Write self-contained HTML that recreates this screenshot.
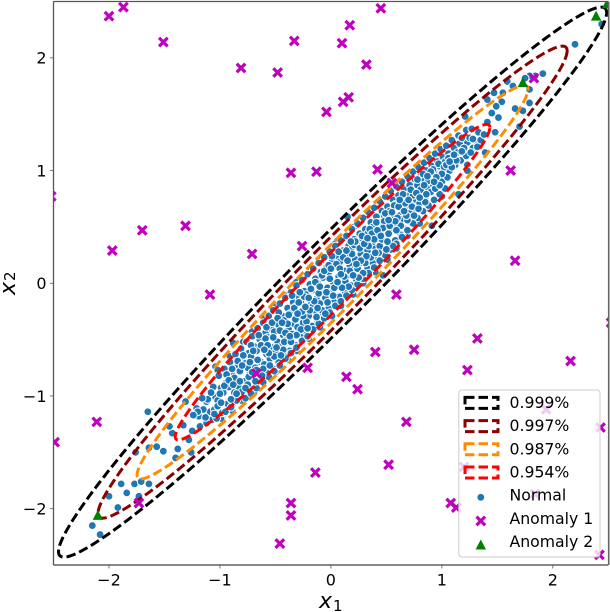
<!DOCTYPE html>
<html>
<head>
<meta charset="utf-8">
<title>Contour scatter</title>
<style>
html,body{margin:0;padding:0;background:#fff;width:610px;height:612px;overflow:hidden}
svg{display:block}
text{font-family:"DejaVu Sans","Liberation Sans",sans-serif;fill:#000}
</style>
</head>
<body>
<svg id="chart" xmlns="http://www.w3.org/2000/svg" width="610" height="612" viewBox="0 0 610 612">
<defs><clipPath id="plot-clip"><rect x="53.5" y="1.5" width="555" height="563.5"></rect></clipPath></defs>
</svg>
<script>
const xTicks = [-2, -1, 0, 1, 2];
const yTicks = [-2, -1, 0, 1, 2];
const contourLabels = ['0.999%', '0.997%', '0.987%', '0.954%'];
const contourRadiiX = [2.47, 2.114, 1.762, 1.418];
const contourRadiiY = [2.44, 2.094, 1.746, 1.40];
const contourRho = [0.98, 0.98, 0.98, 0.98];
const contourCenter = [0.015, 0.01];
const contourColors = ['#000000', '#8b0000', '#ff8c00', '#ff0000'];
const anomaly1 = [
[-2.00,2.37],[-1.87,2.45],[-1.51,2.14],[-0.81,1.91],[-0.48,1.87],[-0.33,2.15],[-0.36,0.98],[-2.52,0.77],
[-1.97,0.29],[-1.70,0.47],[-1.31,0.51],[-0.71,0.26],[-0.26,0.33],[-1.09,-0.10],[0.45,2.44],[0.17,2.29],
[0.10,2.13],[0.32,1.94],[0.16,1.65],[0.11,1.61],[-0.04,1.52],[-0.13,0.99],[0.42,1.01],[0.55,0.89],
[1.62,1.00],[1.66,0.20],[0.59,-0.10],[1.83,1.82],[-2.11,-1.23],[-2.49,-1.41],[-1.73,-1.95],[-0.67,-0.80],
[-0.36,-1.95],[-0.36,-2.06],[-0.46,-2.31],[-0.21,-0.75],[0.40,-0.61],[0.75,-0.59],[1.32,-0.49],[2.16,-0.69],
[1.23,-0.77],[0.14,-0.83],[0.24,-0.94],[0.68,-1.23],[1.94,-1.12],[2.43,-1.28],[-0.14,-1.68],[0.52,-1.61],
[1.20,-1.63],[1.08,-1.95],[1.13,-1.99],[1.84,-1.87],[2.42,-2.41],[2.525,-0.35]
];
const anomaly2 = [[2.39,2.37],[2.49,2.48],[1.73,1.78],[-2.10,-2.06]];
const normalOuter = [
[-1.43,-1.33],[-1.455,-1.27],[-1.28,-1.39],[-1.31,-1.05],[-1.19,-1.18],[-1.21,-1.11],[-1.18,-1.27],[-1.07,-1.21],
[-1.12,-1.05],[-0.98,-1.19],[-1.04,-0.74],[-0.88,-0.53],[-0.91,-1.06],[-1.65,-1.14],[-1.64,-1.46],[-1.57,-1.45],
[-1.51,-1.49],[-1.38,-1.47],[-1.76,-1.50],[-1.40,-1.55],[-1.26,-1.50],[-1.89,-1.78],[-1.77,-1.78],[-1.71,-1.76],
[-1.64,-1.78],[-1.84,-1.86],[-1.73,-1.89],[-2.00,-1.89],[-1.92,-1.99],[-2.15,-2.15],[-2.08,-2.23],
[2.20,2.12],[2.44,2.30],[1.91,1.86],[1.84,1.84],[1.79,1.84],[1.75,1.82],[1.59,1.79],[1.64,1.75],[1.79,1.72],
[1.55,1.69],[1.47,1.69],[1.41,1.63],[1.54,1.61],[1.79,1.60],[1.66,1.55],[1.73,1.53],[1.49,1.57],[1.45,1.51],
[1.21,1.48],[1.51,1.47],[1.41,1.43],[1.70,1.39],[1.48,1.34],[1.33,1.34],[1.22,1.36],[1.15,1.31],[1.27,1.37],
[1.23,1.25],[1.28,1.20],[1.39,1.16],[1.23,1.05],[1.23,1.00],[1.15,0.79],[0.91,0.51],[0.47,0.07],[0.15,0.59],[0.04,0.35]
];
const normalEdge = [
[-1.02,-0.77],[-0.91,-0.65],[-0.79,-0.52],[-0.71,-0.43],[-0.6,-0.31],[-0.49,-0.2],[-0.41,-0.11],[-0.31,0.01],[-0.19,0.11],[-0.09,0.2],
[0.0,0.31],[0.11,0.41],[0.21,0.5],[0.3,0.58],[0.41,0.69],[0.49,0.77],[0.6,0.85],[0.71,0.95],[0.79,1.03],[0.9,1.11],[1.01,1.2],
[-0.99,-1.2],[-0.89,-1.13],[-0.81,-1.04],[-0.69,-0.96],[-0.61,-0.87],[-0.5,-0.79],[-0.39,-0.68],[-0.31,-0.6],[-0.2,-0.49],[-0.1,-0.39],
[0.01,-0.29],[0.09,-0.2],[0.2,-0.1],[0.29,0.0],[0.4,0.1],[0.51,0.21],[0.59,0.31],[0.69,0.42],[0.8,0.53],[0.89,0.66],[1.0,0.77]
];
const normalCore = [
[-1.11,-1.03],[-1.09,-1.14],[-1.12,-1.24],[-1.06,-0.92],[-1.04,-1.01],[-1.05,-1.12],[-1.03,-1.20],
[-1.01,-0.82],[-0.99,-0.93],[-1.02,-1.04],[-0.98,-1.15],[-0.96,-0.76],[-0.94,-0.88],[-0.97,-0.97],[-0.93,-1.07],[-0.95,-1.14],
[-0.91,-0.70],[-0.89,-0.81],[-0.92,-0.92],[-0.88,-1.01],[-0.90,-1.10],[-0.86,-0.63],[-0.84,-0.74],[-0.87,-0.84],[-0.83,-0.93],[-0.85,-1.04],
[-0.81,-0.58],[-0.79,-0.68],[-0.82,-0.78],[-0.78,-0.87],[-0.80,-0.96],[-0.77,-1.02],
[-0.76,-0.52],[-0.74,-0.62],[-0.77,-0.71],[-0.73,-0.80],[-0.75,-0.90],[-0.72,-0.98],
[-0.71,-0.47],[-0.69,-0.56],[-0.72,-0.65],[-0.68,-0.75],[-0.70,-0.84],[-0.67,-0.93],
[-0.66,-0.40],[-0.64,-0.50],[-0.67,-0.60],[-0.63,-0.70],[-0.65,-0.79],[-0.62,-0.87],
[-0.61,-0.35],[-0.59,-0.44],[-0.62,-0.54],[-0.58,-0.63],[-0.60,-0.72],[-0.57,-0.80],[-0.61,-0.88],
[-0.56,-0.29],[-0.54,-0.40],[-0.57,-0.48],[-0.53,-0.57],[-0.55,-0.67],[-0.52,-0.76],[-0.56,-0.83],
[-0.52,-0.24],[-0.49,-0.34],[-0.51,-0.43],[-0.48,-0.52],[-0.50,-0.61],[-0.47,-0.70],[-0.51,-0.78],
[-0.46,-0.18],[-0.44,-0.29],[-0.47,-0.37],[-0.43,-0.46],[-0.45,-0.56],[-0.42,-0.65],[-0.46,-0.73],
[-0.41,-0.13],[-0.39,-0.22],[-0.42,-0.33],[-0.38,-0.41],[-0.40,-0.50],[-0.37,-0.60],[-0.41,-0.67],
[-0.36,-0.08],[-0.34,-0.17],[-0.37,-0.27],[-0.33,-0.36],[-0.35,-0.45],[-0.32,-0.55],[-0.36,-0.62],
[-0.31,-0.02],[-0.29,-0.12],[-0.32,-0.21],[-0.28,-0.31],[-0.30,-0.39],[-0.27,-0.48],[-0.31,-0.57],
[-0.26,0.03],[-0.24,-0.07],[-0.27,-0.16],[-0.23,-0.26],[-0.25,-0.35],[-0.22,-0.43],[-0.26,-0.51],
[-0.21,0.08],[-0.19,-0.01],[-0.22,-0.10],[-0.18,-0.19],[-0.20,-0.29],[-0.17,-0.38],[-0.21,-0.47],
[-0.16,0.13],[-0.14,0.04],[-0.17,-0.06],[-0.13,-0.14],[-0.15,-0.24],[-0.12,-0.33],[-0.16,-0.41],
[-0.11,0.18],[-0.09,0.10],[-0.12,0.00],[-0.08,-0.09],[-0.10,-0.18],[-0.07,-0.27],[-0.11,-0.36],
[-0.06,0.23],[-0.04,0.14],[-0.07,0.05],[-0.03,-0.04],[-0.05,-0.13],[-0.02,-0.22],[-0.06,-0.31],
[-0.01,0.28],[0.01,0.19],[-0.02,0.10],[0.02,0.01],[0.00,-0.08],[0.03,-0.17],[-0.01,-0.26],
[0.04,0.33],[0.06,0.24],[0.03,0.15],[0.07,0.06],[0.05,-0.03],[0.08,-0.12],[0.04,-0.20],
[0.09,0.38],[0.11,0.29],[0.08,0.19],[0.12,0.11],[0.10,0.02],[0.13,-0.08],[0.09,-0.16],
[0.14,0.42],[0.16,0.33],[0.13,0.25],[0.17,0.16],[0.15,0.07],[0.18,-0.02],[0.14,-0.11],
[0.19,0.48],[0.21,0.39],[0.18,0.30],[0.22,0.21],[0.20,0.12],[0.23,0.03],[0.19,-0.06],
[0.24,0.53],[0.26,0.44],[0.23,0.35],[0.27,0.26],[0.25,0.17],[0.28,0.08],[0.24,-0.01],
[0.29,0.58],[0.31,0.48],[0.28,0.40],[0.32,0.31],[0.30,0.22],[0.33,0.13],[0.29,0.04],
[0.34,0.63],[0.36,0.54],[0.33,0.44],[0.37,0.36],[0.35,0.27],[0.38,0.18],[0.34,0.09],
[0.39,0.67],[0.41,0.59],[0.38,0.50],[0.42,0.41],[0.40,0.32],[0.43,0.22],[0.39,0.14],
[0.44,0.73],[0.46,0.64],[0.43,0.54],[0.47,0.46],[0.45,0.37],[0.48,0.28],[0.44,0.20],
[0.49,0.77],[0.51,0.68],[0.48,0.60],[0.52,0.51],[0.50,0.42],[0.53,0.33],[0.49,0.25],
[0.54,0.82],[0.56,0.74],[0.53,0.64],[0.57,0.55],[0.55,0.47],[0.58,0.38],[0.54,0.30],
[0.59,0.86],[0.61,0.78],[0.58,0.70],[0.62,0.60],[0.60,0.52],[0.63,0.43],[0.59,0.35],
[0.64,0.90],[0.66,0.83],[0.63,0.74],[0.67,0.65],[0.65,0.57],[0.68,0.48],[0.64,0.41],
[0.69,0.95],[0.71,0.87],[0.68,0.78],[0.72,0.70],[0.70,0.61],[0.73,0.53],[0.69,0.47],
[0.74,0.99],[0.76,0.92],[0.73,0.83],[0.77,0.74],[0.75,0.66],[0.78,0.58],[0.74,0.53],
[0.79,1.03],[0.81,0.95],[0.78,0.87],[0.82,0.79],[0.80,0.71],[0.83,0.64],
[0.84,1.07],[0.86,1.00],[0.83,0.92],[0.87,0.84],[0.85,0.76],[0.88,0.69],
[0.89,1.11],[0.91,1.04],[0.88,0.96],[0.92,0.88],[0.90,0.81],[0.93,0.74],
[0.94,1.15],[0.96,1.08],[0.93,1.00],[0.97,0.93],[0.95,0.85],[0.98,0.79],
[0.99,1.19],[1.01,1.12],[0.98,1.04],[1.02,0.96],[1.00,0.90],[1.03,0.84],
[1.04,1.22],[1.06,1.15],[1.03,1.08],[1.07,1.00],[1.05,0.94],
[1.09,1.27],[1.11,1.20],[1.08,1.12],[1.12,1.05],[1.16,1.24],[1.14,1.16],[1.17,1.09],
[1.20,1.20],[1.22,1.13],[1.25,1.29],[1.26,1.16],[1.30,1.27]
];
const normalScatter = [
[0.13,0.02],[-0.42,-0.52],[0.71,0.62],[-0.87,-0.97],[0.36,0.23],[-0.18,-0.05],[0.92,1.01],[-0.63,-0.55],[0.05,0.17],[0.57,0.69],
[-1.02,-1.09],[0.28,0.42],[-0.33,-0.22],[0.81,0.83],[-0.74,-0.83],[0.44,0.33],[-0.08,0.07],[1.06,1.11],[-0.51,-0.65],[0.19,0.26],
[-0.27,-0.41],[0.63,0.51],[-0.94,-0.81],[0.02,-0.11],[0.49,0.62],[-0.58,-0.39],[0.85,0.72],[-0.13,-0.30],[0.33,0.29],[-0.79,-0.64],
[0.11,0.23],[-0.38,-0.28],[0.74,0.78],[-0.68,-0.87],[1.13,1.09],[0.24,0.13],[-0.03,-0.17],[0.52,0.44],[-0.47,-0.26],[0.97,1.06],
[-1.08,-0.97],[0.41,0.54],[-0.22,-0.34],[0.67,0.71],[-0.84,-0.69],[0.16,-0.03],[-0.56,-0.62],[0.88,0.91],[-0.06,0.11],[0.31,0.18],
[-0.31,-0.46],[0.59,0.47],[-0.99,-1.06],[0.07,0.28],[0.46,0.39],[-0.72,-0.55],[0.78,0.92],[-0.16,-0.20],[0.21,0.34],[-0.43,-0.59],
[1.02,1.03],[-0.61,-0.76],[0.38,0.37],[-0.24,-0.12],[0.69,0.56],[-0.89,-0.76],[0.12,0.06],[0.54,0.58],[-0.36,-0.52],[-0.01,0.04],
[0.83,0.97],[-0.53,-0.35],[0.26,0.31],[-0.77,-0.93],[0.94,0.84],[-0.11,-0.09],[0.48,0.55],[-1.05,-1.16],[0.35,0.48],[-0.29,-0.17],
[0.61,0.68],[-0.66,-0.68],[0.17,0.11],[-0.46,-0.42],[1.11,1.14],[0.73,0.68],[-0.19,-0.24],[0.29,0.09],[-0.82,-0.87],[0.03,-0.04],
[0.56,0.33],[-0.39,-0.36],[0.9,0.99],[-0.59,-0.49],[0.22,0.37],[-0.08,-0.24],[0.65,0.79],[-0.96,-0.91],[0.43,0.27],[-0.25,-0.29],
[0.79,0.66],[-0.7,-0.6],[0.08,0.13],[0.51,0.37],[-0.49,-0.57],[1.0,0.97],[-0.14,0.01],[0.37,0.44],[-0.32,-0.32],[0.6,0.58],
[-0.9,-1.03],[0.15,0.2],[-0.55,-0.73],[0.86,0.79],[-0.04,-0.08],[0.32,0.24],[-0.65,-0.46],[0.72,0.83],[-0.21,-0.4],[0.47,0.49],
[-1.15,-1.12],[0.25,0.05],[-0.41,-0.44],[0.95,0.94],[0.01,0.24],[0.55,0.63],[-0.75,-0.75],[0.18,0.37],[-0.28,-0.08],[0.68,0.6],
[-0.85,-0.98],[0.4,0.27],[-0.1,-0.03],[1.04,1.05],[-0.52,-0.48],[0.27,0.2],[0.77,0.8],[-0.35,-0.11],[0.1,-0.04],[-0.62,-0.82],
[0.5,0.3],[-0.15,-0.16],[0.84,0.87],[-0.92,-0.86],[0.34,0.33],[-0.45,-0.64],[0.62,0.74],[-0.02,0.16],[0.2,0.07],[-0.73,-0.7],
[0.98,0.87],[-0.26,-0.25],[0.42,0.47],[-0.57,-0.55],[0.7,0.74],[0.06,0.01],[-1.0,-0.98],[0.3,0.35],[-0.37,-0.47],[0.53,0.51],
[1.09,1.03],[-0.2,-0.13],[0.75,0.6],[-0.8,-0.73],[0.14,0.29],[-0.48,-0.31],[0.87,0.95],[-0.05,-0.27],[0.39,0.39],[-0.67,-0.77],
[0.23,0.17],[-1.13,-1.19],[0.58,0.55],[-0.3,-0.27],[0.93,0.9],[0.0,0.13],[-0.6,-0.59],[0.45,0.42],[-0.12,-0.22],[0.66,0.64],
[1.18,1.17],[-0.88,-0.9],[0.09,0.08],[-0.44,-0.35],[0.8,0.76],[0.33,0.4],[-0.23,-0.21],[-0.71,-0.79],[0.52,0.56],[1.07,1.08],
[-1.2,-1.14],[-1.25,-1.31],[-1.16,-1.02],[-1.33,-1.26],[-1.24,-1.17],[1.28,1.28],[1.35,1.27],[1.32,1.21],[1.18,1.29],[1.38,1.32]
];

const svg = document.getElementById('chart');
const NS = 'http://www.w3.org/2000/svg';
const plotLeft = 53.5, plotRight = 608.3, plotTop = 1.5, plotBottom = 565;
const xMin = -2.5, xMax = 2.5, yMin = -2.5, yMax = 2.5;
function sx(v){ return plotLeft + (v - xMin) / (xMax - xMin) * (plotRight - plotLeft); }
function sy(v){ return plotBottom - (v - yMin) / (yMax - yMin) * (plotBottom - plotTop); }
function make(tag, attrs, parent){
  const el = document.createElementNS(NS, tag);
  for (const k in attrs) el.setAttribute(k, attrs[k]);
  (parent || svg).appendChild(el);
  return el;
}
function xMark(cx, cy, g){
  const r = 4.3;
  const el = make('path', {d:`M${cx-r} ${cy-r}L${cx+r} ${cy+r}M${cx-r} ${cy+r}L${cx+r} ${cy-r}`, stroke:'#bf00bf', 'stroke-width':3.2, fill:'none'}, g);
  return el;
}
function triMark(cx, cy, g){
  const el = make('path', {d:`M${cx} ${cy-5.5}L${cx+5.2} ${cy+4.5}L${cx-5.2} ${cy+4.5}Z`, fill:'#008000'}, g);
  return el;
}
function dotMark(cx, cy, g){
  const el = make('circle', {cx:cx, cy:cy, r:3.9, fill:'#1f77b4', stroke:'#fff', 'stroke-width':1}, g);
  return el;
}
function ellipsePath(rx, ry, rho){
  const phi = Math.acos(rho);
  let d = '';
  for (let i = 0; i <= 360; i++){
    const t = i * Math.PI / 180;
    const px = sx(contourCenter[0] + rx * Math.cos(t));
    const py = sy(contourCenter[1] + ry * Math.cos(t - phi));
    d += (i ? 'L' : 'M') + px.toFixed(2) + ' ' + py.toFixed(2);
  }
  return d + 'Z';
}

const plot = make('g', {'clip-path':'url(#plot-clip)'});



const normalGroup = make('g', {}, plot);


normalOuter.concat(normalEdge, normalCore, normalScatter).forEach(p => {
  const el = dotMark(sx(p[0]), sy(p[1]), normalGroup);
  
  
});

contourRadiiX.forEach((r, i) => {
  const el = make('path', {d:ellipsePath(r, contourRadiiY[i], contourRho[i]), fill:'none', stroke:contourColors[i], 'stroke-width':3, 'stroke-dasharray':'9.5 4'}, plot);
  
  
});

const a1Group = make('g', {}, plot);


anomaly1.forEach(p => {
  const el = xMark(sx(p[0]), sy(p[1]), a1Group);
  
  
});
const a2Group = make('g', {}, plot);


anomaly2.forEach(p => {
  const el = triMark(sx(p[0]), sy(p[1]), a2Group);
  
  
});

/* spines */
const spineLeft = make('line', {x1:plotLeft, x2:plotLeft, y1:plotTop, y2:plotBottom, stroke:'#555', 'stroke-width':1.3});


const spineTop = make('line', {x1:plotLeft, x2:plotRight, y1:plotTop, y2:plotTop, stroke:'#555', 'stroke-width':1.3});


const spineRight = make('line', {x1:plotRight+0.4, x2:plotRight+0.4, y1:plotTop, y2:plotBottom, stroke:'#666', 'stroke-width':1.6});


const spineBottom = make('line', {x1:plotLeft, x2:plotRight, y1:plotBottom, y2:plotBottom, stroke:'#111', 'stroke-width':1.1});



/* ticks */
xTicks.forEach(v => {
  const t = make('line', {x1:sx(v), x2:sx(v), y1:plotBottom, y2:plotBottom+3.5, stroke:'#555', 'stroke-width':0.8});
  
  
  const l = make('text', {x:sx(v), y:585.5, 'text-anchor':'middle', 'font-size':'16px'});
  l.textContent = String(v).replace('-', '\u2212');
  
  
});
yTicks.forEach(v => {
  const t = make('line', {x1:plotLeft-3.5, x2:plotLeft, y1:sy(v), y2:sy(v), stroke:'#555', 'stroke-width':0.8});
  
  
  const l = make('text', {x:46.5, y:sy(v)+5.8, 'text-anchor':'end', 'font-size':'16px'});
  l.textContent = String(v).replace('-', '\u2212');
  
  
});

/* axis titles */
const xTitle = make('text', {x:319, y:608, 'font-size':'22px', 'font-style':'italic'});


xTitle.textContent = 'x';
const xSub = make('text', {x:333, y:611, 'font-size':'15px'});


xSub.textContent = '1';
const yTitle = make('text', {transform:'translate(15,295) rotate(-90)', 'font-size':'22px', 'font-style':'italic'});


yTitle.textContent = 'x';
const ySub = make('text', {transform:'translate(15,281) rotate(-90)', 'font-size':'15px', dy:'0'});


ySub.textContent = '2';

/* legend */
const legend = make('g', {});


const legendBox = make('rect', {x:458.8, y:390, width:141.2, height:167, rx:3, ry:3, fill:'#fff', 'fill-opacity':0.8, stroke:'#ccc', 'stroke-width':1}, legend);


const legendBaselines = [408, 431.2, 454.4, 477.6, 500.6, 523.8, 547];
const legendLabels = contourLabels.concat(['Normal', 'Anomaly 1', 'Anomaly 2']);
legendLabels.forEach((label, i) => {
  const y = legendBaselines[i];
  if (i < 4){
    const h = make('rect', {x:465, y:y-10.6, width:33, height:11, fill:'none', stroke:contourColors[i], 'stroke-width':3, 'stroke-dasharray':'9.5 4'}, legend);
    
    
  } else if (i === 4){
    const h = dotMark(480.8, y-3.3, legend);
    
    
  } else if (i === 5){
    const h = xMark(480.8, y-2.9, legend);
    
    
  } else {
    const h = triMark(480.8, y-2, legend);
    
    
  }
  const t = make('text', {x:509.5, y:y, 'font-size':'15.7px'}, legend);
  t.textContent = label;
  
  
});
</script>
</body>
</html>
